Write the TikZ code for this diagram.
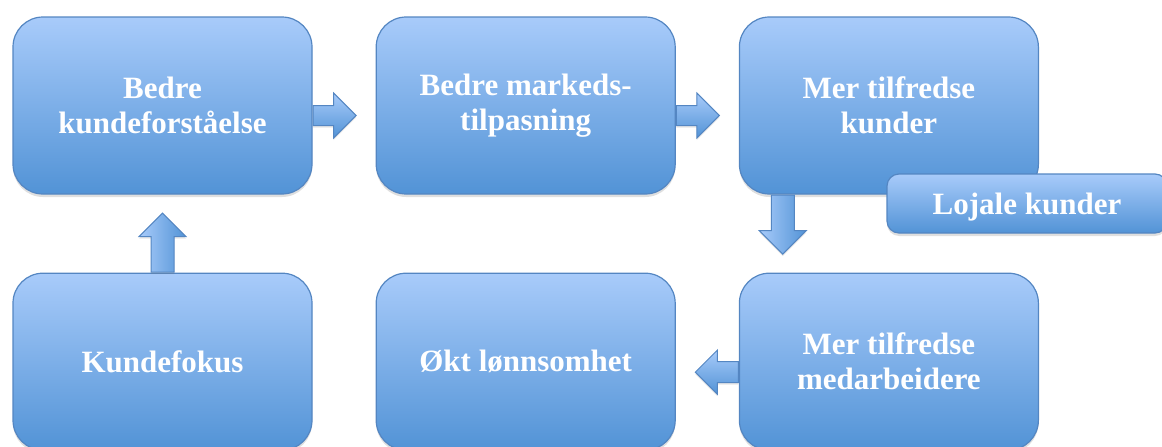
\documentclass[tikz,border=0pt]{standalone}
\usepackage{fontspec}
\setmainfont{Liberation Serif}
\usetikzlibrary{calc,positioning,shapes.arrows,shadows}
\definecolor{boxtop}{RGB}{168,203,250}
\definecolor{boxbot}{RGB}{82,147,214}
\definecolor{boxedge}{RGB}{84,134,194}
\tikzset{
  stepbox/.style={draw=boxedge, line width=0.6pt, rounded corners=15pt,
    top color=boxtop, bottom color=boxbot, text=white,
    minimum width=149.5pt, minimum height=88.5pt, align=center,
    font=\bfseries\fontsize{15.5}{17.5}\selectfont,
    drop shadow={shadow xshift=0pt, shadow yshift=-1.5pt, opacity=0.25}},
  tagbox/.style={stepbox, rounded corners=6pt, minimum width=140pt, minimum height=29.5pt,
    text depth=0pt},
  flowarrow/.style={single arrow, draw=boxedge, line width=0.5pt, anchor=tail,
    inner xsep=0pt, single arrow head indent=0pt, single arrow tip angle=90,
    drop shadow={shadow xshift=0pt, shadow yshift=-1pt, opacity=0.2}},
  flat/.style={top color=boxtop, bottom color=boxbot},
  along/.style={left color=boxtop, right color=boxbot}
}
\begin{document}
\begin{tikzpicture}
    \useasboundingbox (0,0) rectangle (581pt,223pt);
    % Top row
    \node[stepbox] (kunnskap) at (81.25pt,170.25pt) {Bedre\\kundeforståelse};
    \node[stepbox, right=31.5pt of kunnskap] (tilpasning) {Bedre markeds-\\tilpasning};
    \node[stepbox, right=31.5pt of tilpasning] (kunder) {Mer tilfredse\\kunder};
    % Bottom row
    \node[stepbox, below=39pt of kunnskap] (fokus) {Kundefokus};
    \node[stepbox, right=31.5pt of fokus] (lonn) {Økt lønnsomhet};
    \node[stepbox, right=31.5pt of lonn] (ansatte) {Mer tilfredse\\medarbeidere};
    % Side box
    \node[tagbox] (lojal) at (513.5pt,121.25pt) {Lojale kunder};
    % Block arrows
    \node[flowarrow, flat, inner ysep=4.75pt, single arrow head extend=6.25pt,
      minimum height=21.5pt] (pil1) at ($(kunnskap.east)+(0,-5pt)$) {};
    \node[flowarrow, flat, inner ysep=4.75pt, single arrow head extend=6.25pt,
      minimum height=21.5pt] (pil2) at ($(tilpasning.east)+(0,-5pt)$) {};
    \node[flowarrow, along, rotate=-90, inner ysep=5.5pt, single arrow head extend=6pt,
      minimum height=29.5pt] (pil3) at ($(kunder.south west)+(22pt,0)$) {};
    \node[flowarrow, flat, rotate=180, inner ysep=5pt, single arrow head extend=5.75pt,
      minimum height=21.5pt] (pil4) at ($(ansatte.west)+(0,-5.25pt)$) {};
    \node[flowarrow, along, rotate=90, inner ysep=5.5pt, single arrow head extend=6pt,
      minimum height=29.5pt] (pil5) at (fokus.north) {};
\end{tikzpicture}
\end{document}
